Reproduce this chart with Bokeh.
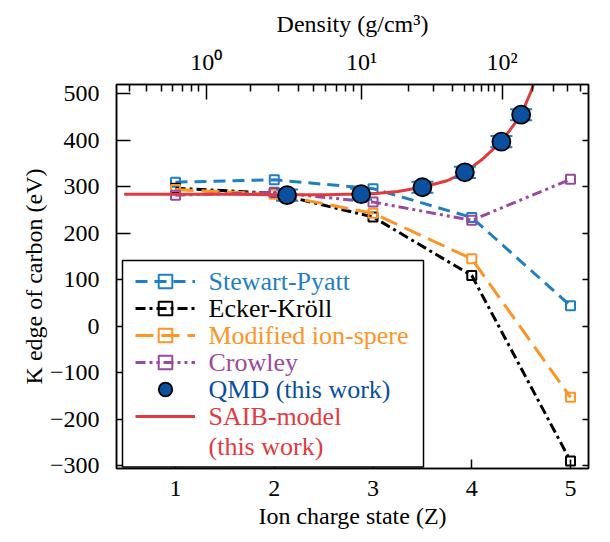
from bokeh.plotting import figure
from bokeh.models import (LinearAxis, FixedTicker, Legend, LegendItem, BoxAnnotation,
                          Range1d, CustomJSTickFormatter, Label)
from bokeh.embed import file_html
from bokeh.resources import INLINE

# ---------------- data ----------------
charge_z = [1, 2, 3, 4, 5]
stewart_pyatt = [310, 315, 296, 234, 44]
ecker_kroll = [297, 286, 235, 109, -290]
modified_ion_sphere = [294, 284, 243, 145, -153]
crowley = [282, 288, 267, 228, 316]

qmd_z = [2.13, 2.88, 3.50, 3.93, 4.30, 4.50]
qmd_k = [282, 284, 299, 331, 397, 455]
qmd_err = [12, 12, 12, 12, 12, 12]

saib_z = [0.48, 1.0, 1.5, 2.0, 2.5, 3.0, 3.25, 3.5, 3.75, 3.93, 4.1, 4.3, 4.5, 4.6, 4.7]
saib_k = [284, 284, 284, 283, 283, 285, 290, 299, 313, 331, 358, 397, 455, 505, 565]

x_ticks = [1, 2, 3, 4, 5]
y_ticks = [-300, -200, -100, 0, 100, 200, 300, 400, 500]

# top (density) axis: tick labels and their positions on the Z scale
density_major_labels = ["10\u2070", "10\u00b9", "10\u00b2"]
density_major_z = [1.311, 2.884, 4.308]
density_minor_z = [0.537, 0.703, 0.855, 0.967, 1.068, 1.162, 1.236,
                   1.759, 2.040, 2.243, 2.394, 2.519, 2.630, 2.725, 2.806,
                   3.363, 3.616, 3.802, 3.930, 4.021, 4.099, 4.173, 4.234,
                   4.612, 4.825, 4.967, 5.101]

# ---------------- style ----------------
FONT = "Liberation Serif"
C_SP = "#1f7fc4"
C_EK = "#000000"
C_MIS = "#ff9426"
C_CR = "#9a4a9e"
C_QMD = "#0b4f9f"
C_SAIB = "#e23a3f"

p = figure(width=610, height=542,
           x_range=Range1d(0.4025, 5.182), y_range=Range1d(-306, 520),
           output_backend="svg", toolbar_location=None,
           min_border_left=116, min_border_right=22,
           min_border_top=84, min_border_bottom=74)
p.xgrid.visible = False
p.ygrid.visible = False
p.outline_line_color = "black"
p.outline_line_width = 1.5
p.background_fill_color = "white"
p.border_fill_color = "white"


def style_axis(ax, tick_in, standoff, label_standoff=6):
    ax.axis_line_color = "black"
    ax.axis_line_width = 1.5
    ax.major_tick_line_color = "black"
    ax.major_tick_line_width = 1.5
    ax.major_tick_in = tick_in
    ax.major_tick_out = 0
    ax.minor_tick_line_color = None
    ax.major_label_text_font = FONT
    ax.major_label_text_font_size = "24px"
    ax.major_label_text_color = "black"
    ax.major_label_standoff = standoff
    ax.axis_label_text_font = FONT
    ax.axis_label_text_font_size = "24px"
    ax.axis_label_text_font_style = "normal"
    ax.axis_label_text_color = "black"
    ax.axis_label_standoff = label_standoff


xb = p.xaxis[0]
xb.ticker = FixedTicker(ticks=x_ticks)
xb.axis_label = "Ion charge state (Z)"
style_axis(xb, 9, 12, 4)

yl = p.yaxis[0]
yl.ticker = FixedTicker(ticks=y_ticks)
yl.axis_label = "K edge of carbon (eV)"
style_axis(yl, 14, 17, 0)

yr = LinearAxis(ticker=FixedTicker(ticks=y_ticks),
                formatter=CustomJSTickFormatter(code="return ''"))
style_axis(yr, 6, 0, 0)
p.add_layout(yr, "right")

xt = LinearAxis(ticker=FixedTicker(ticks=density_major_z, minor_ticks=density_minor_z),
                major_label_overrides={z: lab for z, lab in zip(density_major_z, density_major_labels)},
                axis_label="Density (g/cm\u00b3)")
style_axis(xt, 15, 10, 9)
xt.minor_tick_line_color = "black"
xt.minor_tick_line_width = 1.5
xt.minor_tick_in = 7
xt.minor_tick_out = 0
p.add_layout(xt, "above")

# ---------------- series ----------------
LW = 3
sp_line = p.line(charge_z, stewart_pyatt, line_color=C_SP, line_width=LW, line_dash="12 7")
sp_pts = p.scatter(charge_z, stewart_pyatt, marker="square", size=9, fill_color=None,
                   line_color=C_SP, line_width=2)

ek_line = p.line(charge_z, ecker_kroll, line_color=C_EK, line_width=LW, line_dash="10 4 3 4")
ek_pts = p.scatter(charge_z, ecker_kroll, marker="square", size=9, fill_color=None,
                   line_color=C_EK, line_width=2)

mis_line = p.line(charge_z, modified_ion_sphere, line_color=C_MIS, line_width=LW, line_dash="18 8")
mis_pts = p.scatter(charge_z, modified_ion_sphere, marker="square", size=9, fill_color=None,
                    line_color=C_MIS, line_width=2)

cr_line = p.line(charge_z, crowley, line_color=C_CR, line_width=LW, line_dash="10 4 3 4 3 4")
cr_pts = p.scatter(charge_z, crowley, marker="square", size=9, fill_color=None,
                   line_color=C_CR, line_width=2)

saib_line = p.line(saib_z, saib_k, line_color=C_SAIB, line_width=LW)

qmd_hi = [k + e for k, e in zip(qmd_k, qmd_err)]
qmd_lo = [k - e for k, e in zip(qmd_k, qmd_err)]
p.segment(x0=qmd_z, y0=qmd_lo, x1=qmd_z, y1=qmd_hi, line_color=C_SP, line_width=2)
p.scatter(qmd_z, qmd_hi, marker="dash", size=22, line_color=C_SP, line_width=2)
p.scatter(qmd_z, qmd_lo, marker="dash", size=22, line_color=C_SP, line_width=2)
qmd_pts = p.scatter(qmd_z, qmd_k, marker="circle", size=18, fill_color=C_QMD,
                    line_color="black", line_width=1.8)

# ---------------- legend ----------------
box = BoxAnnotation(left=6, right=307, bottom=1.5, top=208,
                    left_units="screen", right_units="screen",
                    bottom_units="screen", top_units="screen",
                    fill_color="white", fill_alpha=1.0,
                    line_color="black", line_width=1.5, line_alpha=1.0)
p.add_layout(box)

rows = [
    ("Stewart-Pyatt", C_SP, [sp_line, sp_pts], 187),
    ("Ecker-Kr\u00f6ll", C_EK, [ek_line, ek_pts], 160),
    ("Modified ion-spere", C_MIS, [mis_line, mis_pts], 133),
    ("Crowley", C_CR, [cr_line, cr_pts], 106),
    ("QMD (this work)", C_QMD, [qmd_pts], 79),
    ("SAIB-model", C_SAIB, [saib_line], 52),
    ("(this work)", C_SAIB, None, 22),
]
ROW_H = 34
GLYPH_X = 19
GLYPH_W = 60
LABEL_GAP = 13

# legend glyphs (no text)
for label, color, rends, cy in rows:
    if rends is not None:
        lg = Legend(items=[LegendItem(label=" ", renderers=rends)],
                    location=(GLYPH_X, cy - ROW_H / 2), orientation="vertical",
                    padding=0, margin=0, spacing=0,
                    glyph_width=GLYPH_W, glyph_height=ROW_H, label_height=ROW_H,
                    label_standoff=0, label_width=1,
                    label_text_font=FONT, label_text_font_size="4px",
                    border_line_color=None, background_fill_alpha=0)
        p.add_layout(lg, "center")

# legend texts, each in its series colour
for label, color, rends, cy in rows:
    p.add_layout(Label(x=GLYPH_X + GLYPH_W + LABEL_GAP, y=cy, x_units="screen", y_units="screen",
                       text=label, text_align="left", text_baseline="middle",
                       text_font=FONT, text_font_size="26px", text_color=color))

open("out.html", "w").write(file_html(p, INLINE))
